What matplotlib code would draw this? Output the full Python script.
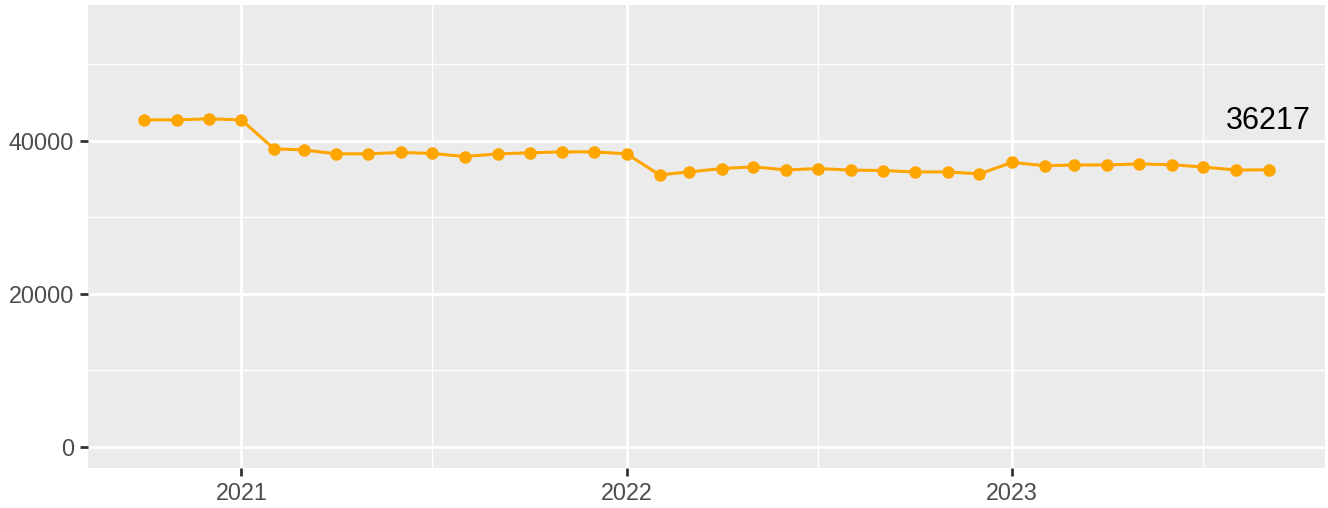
import numpy as np
import pandas as pd
import matplotlib
matplotlib.use("Agg")
import matplotlib.pyplot as plt
import matplotlib.dates as mdates
from matplotlib.ticker import MultipleLocator

# monthly values, Oct 2020 .. Sep 2023
months = pd.date_range("2020-10-01", "2023-09-01", freq="MS")
values = [42740, 42740, 42880, 42740,
          38950, 38820, 38300, 38300, 38480, 38350, 37950, 38300,
          38430, 38560, 38560, 38300, 35550, 35940, 36380, 36600,
          36200, 36380, 36180, 36120, 35940, 35940, 35680, 37180,
          36750, 36850, 36850, 36980, 36880, 36580, 36180, 36217]
last_label = "36217"

plt.rcParams['font.family'] = ['Liberation Sans', 'DejaVu Sans']

fig = plt.figure(figsize=(13.28, 5.08), dpi=100)
ax = fig.add_axes([88/1328, 40/508, 1237/1328, 463/508])
ax.set_facecolor("#EBEBEB")

ax.plot(months, values, color="#FFA500", lw=2.2, marker="o", ms=9,
        markeredgewidth=0, zorder=3)
ax.text(months[-1], values[-1] + 6400, last_label, ha="center", va="center",
        fontsize=22, color="black", zorder=4)

# ggplot-style limits with 5% expansion
span = months[-1] - months[0]
ax.set_xlim(months[0] - span * 0.05, months[-1] + span * 0.05)
ax.set_ylim(-2750, 57750)

ax.xaxis.set_major_locator(mdates.YearLocator())
ax.xaxis.set_major_formatter(mdates.DateFormatter("%Y"))
ax.xaxis.set_minor_locator(mdates.MonthLocator(bymonth=7))
ax.yaxis.set_major_locator(MultipleLocator(20000))
ax.yaxis.set_minor_locator(MultipleLocator(10000))

ax.grid(which="major", color="white", lw=2.0)
ax.grid(which="minor", color="white", lw=1.0)
ax.set_axisbelow(True)
for s in ax.spines.values():
    s.set_visible(False)

ax.tick_params(which="major", length=6, width=2, color="#333333",
               labelsize=16.8, labelcolor="#4D4D4D", pad=4)
ax.tick_params(which="minor", length=0)

fig.savefig("out.png", dpi=100)
